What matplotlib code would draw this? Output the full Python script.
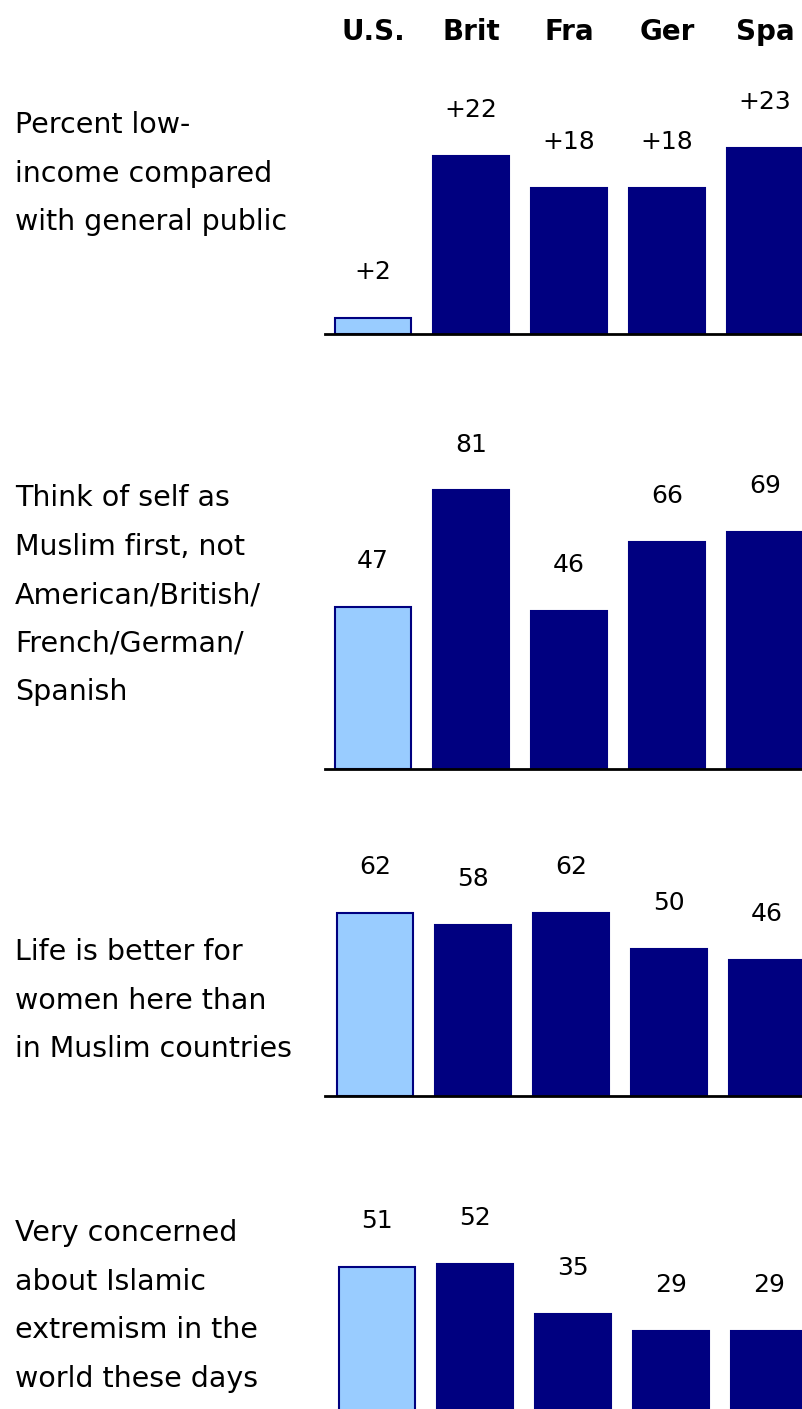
import matplotlib.pyplot as plt

# countries across the top
countries = ['U.S.', 'Brit', 'Fra', 'Ger', 'Spa']

# one list of values per row
low_income = [2, 22, 18, 18, 23]
muslim_first = [47, 81, 46, 66, 69]
life_better = [62, 58, 62, 50, 46]
concerned = [51, 52, 35, 29, 29]

row_labels = [
    ['Percent low-', 'income compared', 'with general public'],
    ['Think of self as', 'Muslim first, not', 'American/British/', 'French/German/', 'Spanish'],
    ['Life is better for', 'women here than', 'in Muslim countries'],
    ['Very concerned', 'about Islamic', 'extremism in the', 'world these days'],
]

W, H = 803, 1409
fig = plt.figure(figsize=(W / 100, H / 100), dpi=100)

light = '#99ccff'
navy = '#000080'

# (values, baseline px from top, axes top px, px per unit, signed labels, first text line y, x shift px)
rows = [
    (low_income, 334, 60, 8.1, True, 125, 0),
    (muslim_first, 769, 400, 3.44, False, 498, 0),
    (life_better, 1096, 830, 2.95, False, 952, 2),
    (concerned, 1415, 1180, 2.9, False, 1233, 4),
]

ax_left, ax_right = 325, 803
x0, step = 373, 98

for i, (vals, base, top, scale, signed, ty, dx) in enumerate(rows):
    ax = fig.add_axes([ax_left / W, (H - base) / H, (ax_right - ax_left) / W, (base - top) / H])
    ax.set_xlim((ax_left - x0 - dx) / step, (ax_right - x0 - dx) / step)
    ax.set_ylim(0, (base - top) / scale)
    pos = list(range(len(countries)))
    cols = [light] + [navy] * (len(countries) - 1)
    ax.bar(pos, vals, width=0.77, color=cols, edgecolor=navy, linewidth=1.5)
    for p, v in zip(pos, vals):
        txt = ('+%d' % v) if signed else str(v)
        ax.annotate(txt, (p, v), xytext=(0, 33), textcoords='offset points',
                    ha='center', va='center', fontsize=18, color='black')
    for s in ['top', 'right', 'left']:
        ax.spines[s].set_visible(False)
    ax.spines['bottom'].set_linewidth(2)
    ax.set_xticks([])
    ax.set_yticks([])
    ax.patch.set_alpha(0)

    if i == 0:
        for p, c in zip(pos, countries):
            ax.annotate(c, (p, H - 32), xycoords=('data', 'figure pixels'),
                        ha='center', va='center', fontsize=20, fontweight='bold')

    for j, line in enumerate(row_labels[i]):
        fig.text(15 / W, (H - (ty + j * 48.6)) / H, line, ha='left', va='center',
                 fontsize=20.5, color='black')

plt.savefig('out.png', dpi=100)
